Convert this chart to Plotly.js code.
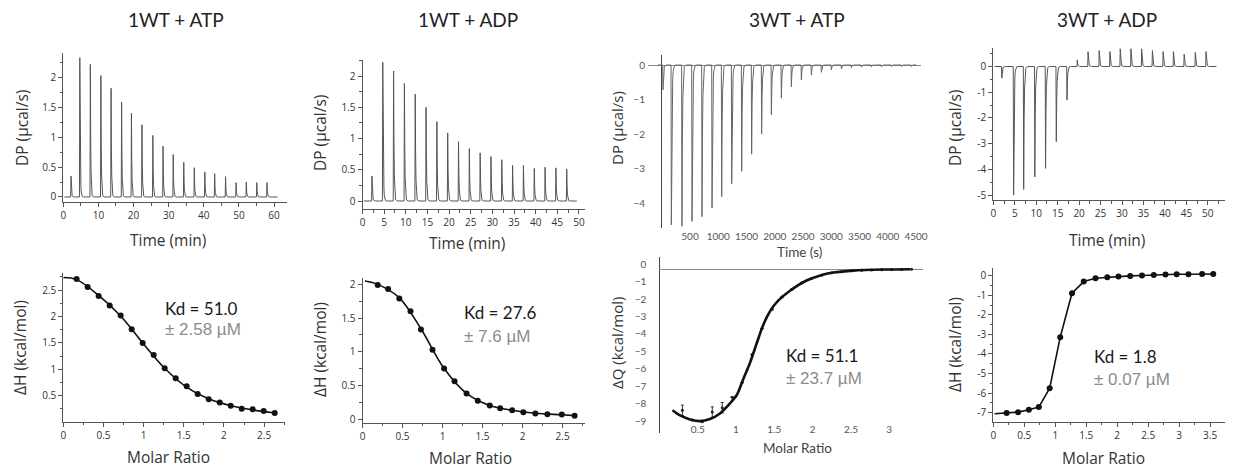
<!DOCTYPE html>
<html><head><meta charset="utf-8">
<script src="https://cdn.plot.ly/plotly-3.0.1.min.js"></script>
<style>html,body{margin:0;padding:0;background:#fff}#chart{width:1235px;height:473px}</style>
</head><body><div id="chart"></div>
<script>
// ---------- DATA ----------
const panelTitles = ["1WT + ATP", "1WT + ADP", "3WT + ATP", "3WT + ADP"];

// Raw thermograms: injection times and peak heights (DP, µcal/s)
const p1Times = [2.1, 4.6, 7.6, 10.6, 13.5, 16.5, 19.3, 22.3, 25.4, 28.3, 31.2, 34.2, 37.2, 40.2, 43.0, 46.1, 49.1, 52.0, 55.0, 57.9];
const p1Peaks = [0.35, 2.33, 2.22, 2.03, 1.82, 1.59, 1.40, 1.21, 1.03, 0.85, 0.71, 0.58, 0.49, 0.42, 0.39, 0.34, 0.24, 0.25, 0.24, 0.24];

const p2Times = [2.1, 4.6, 7.1, 9.6, 12.1, 14.6, 17.1, 19.6, 22.1, 24.6, 27.1, 29.6, 32.1, 34.6, 37.1, 39.6, 42.1, 44.6, 47.1];
const p2Peaks = [0.40, 2.22, 2.08, 1.88, 1.71, 1.50, 1.27, 1.09, 0.95, 0.84, 0.77, 0.71, 0.66, 0.57, 0.57, 0.52, 0.54, 0.53, 0.51];

const p3Times = [16, 164, 352, 530, 707, 884, 1055, 1232, 1409, 1585, 1762, 1934, 2111, 2288, 2465, 2642, 2819, 2996, 3173, 3350, 3527, 3704, 3881, 4058, 4235, 4411];
const p3Peaks = [-0.72, -4.63, -4.67, -4.53, -4.39, -4.14, -3.81, -3.44, -3.08, -2.58, -2.0, -1.44, -0.96, -0.63, -0.43, -0.29, -0.21, -0.14, -0.11, -0.08, -0.06, -0.05, -0.05, -0.04, -0.04, -0.04];

const p4Times = [1.9, 4.65, 7.0, 9.6, 12.1, 14.6, 17.1, 19.5, 22.0, 24.6, 27.1, 29.5, 32.0, 34.5, 37.0, 39.5, 41.9, 44.4, 47.0, 49.5];
const p4Peaks = [-0.45, -5.0, -4.78, -4.29, -3.96, -2.92, -1.30, 0.26, 0.58, 0.62, 0.58, 0.69, 0.69, 0.69, 0.62, 0.58, 0.58, 0.48, 0.55, 0.58];

// Integrated heats (molar ratio vs ΔH)
const p5X = [0.166, 0.303, 0.44, 0.577, 0.714, 0.851, 0.988, 1.125, 1.262, 1.399, 1.536, 1.673, 1.81, 1.947, 2.084, 2.221, 2.358, 2.495, 2.632];
const p5Y = [2.71, 2.56, 2.39, 2.21, 2.02, 1.76, 1.50, 1.27, 1.02, 0.83, 0.68, 0.53, 0.43, 0.37, 0.31, 0.25, 0.24, 0.21, 0.17];
const p5FitX = [0.0, 0.166, 0.44, 0.714, 0.988, 1.262, 1.536, 1.81, 2.084, 2.358, 2.632];
const p5FitY = [2.74, 2.70, 2.40, 2.01, 1.50, 1.02, 0.66, 0.44, 0.31, 0.23, 0.17];

const p6X = [0.19, 0.32, 0.46, 0.60, 0.73, 0.875, 1.02, 1.15, 1.30, 1.44, 1.59, 1.72, 1.87, 2.01, 2.16, 2.31, 2.49, 2.65];
const p6Y = [1.99, 1.93, 1.79, 1.60, 1.33, 1.03, 0.75, 0.56, 0.38, 0.27, 0.20, 0.16, 0.13, 0.10, 0.08, 0.07, 0.065, 0.05];
const p6FitX = [0.03, 0.19, 0.46, 0.73, 1.02, 1.30, 1.59, 1.87, 2.16, 2.49, 2.65];
const p6FitY = [2.05, 2.00, 1.80, 1.34, 0.75, 0.38, 0.20, 0.13, 0.085, 0.062, 0.05];

const p7X = [0.30, 0.43, 0.56, 0.69, 0.82, 0.95, 1.08, 1.21, 1.34, 1.47, 1.60, 1.73, 1.86, 1.99, 2.12, 2.25, 2.38, 2.51, 2.64, 2.77, 2.90, 3.03, 3.16, 3.29];
const p7Y = [-8.1, -8.65, -8.75, -8.2, -7.95, -7.35, -6.5, -4.9, -3.4, -2.3, -1.6, -1.15, -0.78, -0.52, -0.34, -0.2, -0.14, -0.09, -0.06, -0.04, -0.03, -0.02, -0.02, -0.01];
const p7Err = [0.3, 0, 0, 0.3, 0.3, 0, 0, 0, 0, 0, 0, 0, 0, 0, 0, 0, 0, 0, 0, 0, 0, 0, 0, 0];
const p7FitX = [0.17, 0.27, 0.40, 0.53, 0.66, 0.79, 0.92, 1.01, 1.09, 1.18, 1.27, 1.355, 1.46, 1.55, 1.70, 1.92, 2.09, 2.27, 2.53, 2.92, 3.27];
const p7FitY = [-8.09, -8.39, -8.62, -8.72, -8.60, -8.28, -7.70, -7.22, -6.36, -5.40, -4.25, -3.20, -2.30, -1.80, -1.25, -0.65, -0.37, -0.19, -0.08, -0.02, 0.0];

const p8X = [0.215, 0.40, 0.574, 0.735, 0.91, 1.08, 1.27, 1.46, 1.65, 1.84, 2.02, 2.21, 2.40, 2.59, 2.78, 2.96, 3.15, 3.37, 3.55];
const p8Y = [-7.03, -6.98, -6.86, -6.72, -5.75, -3.14, -0.89, -0.29, -0.12, -0.07, -0.03, 0.0, 0.02, 0.05, 0.07, 0.085, 0.085, 0.10, 0.10];
const p8FitX = [0.02, 0.215, 0.40, 0.574, 0.735, 0.91, 1.08, 1.27, 1.46, 1.65, 1.84, 2.02, 2.21, 2.40, 2.59, 2.78, 2.96, 3.15, 3.37, 3.55];
const p8FitY = [-7.06, -7.03, -6.98, -6.86, -6.72, -5.75, -3.14, -0.89, -0.29, -0.12, -0.07, -0.03, 0.0, 0.02, 0.05, 0.07, 0.085, 0.085, 0.10, 0.10];

const kdTexts = ["Kd = 51.0", "Kd = 27.6", "Kd = 51.1", "Kd = 1.8"];
const errTexts = ["± 2.58 µM", "± 7.6 µM", "± 23.7 µM", "± 0.07 µM"];

const yTick4Vals = [0, -1, -2, -3, -4, -5];
const yTick4Text = ["0", "-1", "-2", "-3", "-4", "-5"];
const yTick8Vals = [0, -1, -2, -3, -4, -5, -6, -7];
const yTick8Text = ["0", "-1", "-2", "-3", "-4", "-5", "-6", "-7"];
const p3XTicks = [500, 1000, 1500, 2000, 2500, 3000, 3500, 4000, 4500];
const p7XTicks = [0.5, 1, 1.5, 2, 2.5, 3];

// ---------- helpers ----------
const W = 1235, H = 473;
const xd = (a, b) => [a / W, b / W];
const yd = (top, bot) => [1 - bot / H, 1 - top / H];

// builds an injection-peak trace outline from the read peak times/heights
function thermo(times, peaks, start, end, rise, tau, span) {
  const xs = [start], ys = [0];
  for (let i = 0; i < times.length; i++) {
    const t = times[i], h = peaks[i];
    xs.push(t); ys.push(0);
    xs.push(t + rise); ys.push(h);
    const n = 10;
    for (let k = 1; k <= n; k++) {
      const dt = span * k / n;
      xs.push(t + rise + dt); ys.push(h * Math.exp(-dt / tau));
    }
  }
  xs.push(end); ys.push(0);
  return {xs, ys};
}

const th1 = thermo(p1Times, p1Peaks, 0.3, 61, 0.1, 0.12, 1.0);
const th2 = thermo(p2Times, p2Peaks, 0.3, 49.5, 0.08, 0.11, 0.9);
const th3 = thermo(p3Times, p3Peaks, -70, 4480, 6, 10, 80);
const th4 = thermo(p4Times, p4Peaks, 0.3, 52, 0.08, 0.12, 1.0);

const grayLine = {color: '#555', width: 1};
const traces = [
  {x: th1.xs, y: th1.ys, xaxis: 'x', yaxis: 'y', mode: 'lines', line: grayLine},
  {x: th2.xs, y: th2.ys, xaxis: 'x2', yaxis: 'y2', mode: 'lines', line: grayLine},
  {x: th3.xs, y: th3.ys, xaxis: 'x3', yaxis: 'y3', mode: 'lines', line: {color: '#666', width: 1}},
  {x: th4.xs, y: th4.ys, xaxis: 'x4', yaxis: 'y4', mode: 'lines', line: grayLine},

  {x: p5FitX, y: p5FitY, xaxis: 'x5', yaxis: 'y5', mode: 'lines', line: {color: '#111', width: 1.6, shape: 'spline'}},
  {x: p5X, y: p5Y, xaxis: 'x5', yaxis: 'y5', mode: 'markers', marker: {color: '#111', size: 6}},
  {x: p6FitX, y: p6FitY, xaxis: 'x6', yaxis: 'y6', mode: 'lines', line: {color: '#111', width: 1.6, shape: 'spline'}},
  {x: p6X, y: p6Y, xaxis: 'x6', yaxis: 'y6', mode: 'markers', marker: {color: '#111', size: 6}},
  {x: p7X, y: p7Y, xaxis: 'x7', yaxis: 'y7', mode: 'markers', marker: {color: '#222', size: 3},
   error_y: {type: 'data', array: p7Err, visible: true, color: '#333', thickness: 1, width: 1.5}},
  {x: p7FitX, y: p7FitY, xaxis: 'x7', yaxis: 'y7', mode: 'lines', line: {color: '#111', width: 2.6, shape: 'spline', smoothing: 0.8}},
  {x: p8FitX, y: p8FitY, xaxis: 'x8', yaxis: 'y8', mode: 'lines', line: {color: '#111', width: 1.6}},
  {x: p8X, y: p8Y, xaxis: 'x8', yaxis: 'y8', mode: 'markers', marker: {color: '#111', size: 6}}
];

const tickFont = {family: 'Open Sans, sans-serif', size: 10, color: '#333'};
const base = {showline: true, linecolor: '#555', linewidth: 1, ticks: 'outside', ticklen: 4, tickwidth: 1,
  tickcolor: '#555', showgrid: false, zeroline: false, tickfont: tickFont, fixedrange: true};
function ax(extra, minorD) {
  const o = Object.assign({}, base, extra);
  if (minorD) o.minor = {ticks: 'outside', ticklen: 2.5, tickcolor: '#555', dtick: minorD, showgrid: false};
  return o;
}
const plainFont = {family: 'Lato, sans-serif', size: 10, color: '#555'};
const plain = {showline: false, ticks: '', showgrid: false, fixedrange: true, tickfont: plainFont};

const layout = {
  width: W, height: H, margin: {l: 0, r: 0, t: 0, b: 0}, showlegend: false,
  paper_bgcolor: '#fff', plot_bgcolor: 'rgba(0,0,0,0)',
  xaxis: ax({domain: xd(63.3, 287), range: [0, 63.7], dtick: 10, anchor: 'y'}, 5),
  yaxis: ax({domain: yd(53, 202), range: [-0.084, 2.41], dtick: 0.5, anchor: 'x'}, 0.25),
  xaxis2: ax({domain: xd(362.5, 585), range: [0, 51.4], dtick: 5, anchor: 'y2'}, 2.5),
  yaxis2: ax({domain: yd(60, 209), range: [-0.128, 2.256], dtick: 0.5, anchor: 'x2'}, 0.25),
  xaxis3: Object.assign({}, plain, {domain: xd(648, 921), range: [-243, 4588], tickvals: p3XTicks, anchor: 'y3', ticklabelstandoff: 1}),
  yaxis3: Object.assign({}, plain, {domain: yd(55, 228), range: [-4.72, 0.29], dtick: 1, anchor: 'x3',
    zeroline: true, zerolinecolor: '#8a8a8a', zerolinewidth: 1, ticklabelstandoff: 2}),
  xaxis4: ax({domain: xd(993.3, 1225), range: [0, 54], dtick: 5, anchor: 'y4'}, 2.5),
  yaxis4: ax({domain: yd(48, 200), range: [-5.19, 0.72], tickvals: yTick4Vals, ticktext: yTick4Text, anchor: 'x4'}, 0.5),

  xaxis5: ax({domain: xd(63.3, 285), range: [0, 2.76], dtick: 0.5, anchor: 'y5'}, 0.25),
  yaxis5: ax({domain: yd(273.3, 421.7), range: [0.006, 2.82], dtick: 0.5, anchor: 'x5'}, 0.25),
  xaxis6: ax({domain: xd(362.5, 585), range: [0, 2.78], dtick: 0.5, anchor: 'y6'}, 0.25),
  yaxis6: ax({domain: yd(278.3, 422.7), range: [-0.055, 2.09], dtick: 0.5, anchor: 'x6'}, 0.25),
  xaxis7: Object.assign({}, plain, {domain: xd(659.4, 923), range: [0, 3.44], tickvals: p7XTicks, anchor: 'y7', ticklabelstandoff: -11}),
  yaxis7: Object.assign({}, plain, {domain: yd(257, 433), range: [-9.4, 0.7], dtick: 1, anchor: 'x7',
    zeroline: true, zerolinecolor: '#8a8a8a', zerolinewidth: 1, ticklabelstandoff: 12, ticklabelshift: -5}),
  xaxis8: ax({domain: xd(993.3, 1225), range: [0, 3.74], dtick: 0.5, anchor: 'y8'}, 0.25),
  yaxis8: ax({domain: yd(268.3, 421.7), range: [-7.47, 0.39], tickvals: yTick8Vals, ticktext: yTick8Text, anchor: 'x8'}, 0.5),
  annotations: []
};

const A = layout.annotations;
function note(text, px, py, font, extra) {
  A.push(Object.assign({text: text, x: px / W, y: 1 - py / H, xref: 'paper', yref: 'paper', showarrow: false,
    xanchor: 'center', yanchor: 'middle', font: font}, extra || {}));
}
const titleFont = {family: 'Lato, sans-serif', size: 19, color: '#222'};
const axTitle = {family: 'Open Sans, sans-serif', size: 15.5, color: '#333'};
const smallTitle = {family: 'Lato, sans-serif', size: 13.5, color: '#444'};
const kdFont = {family: 'Lato, sans-serif', size: 17, color: '#1a1a1a'};
const errFont = {family: 'Liberation Sans, Arial, sans-serif', size: 17, color: '#8c8c8c'};

const titleX = [176, 468, 797, 1107];
panelTitles.forEach((t, i) => note(t, titleX[i], 19, titleFont));

note('DP (µcal/s)', 22, 128, axTitle, {textangle: -90});
note('DP (µcal/s)', 320, 133, axTitle, {textangle: -90});
note('DP (µcal/s)', 617, 128, Object.assign({}, axTitle, {size: 15}), {textangle: -90});
note('DP (µcal/s)', 955, 128, axTitle, {textangle: -90});
note('Time (min)', 168, 240, axTitle);
note('Time (min)', 467, 243, axTitle);
note('Time (s)', 799, 252, smallTitle);
note('Time (min)', 1107, 240, axTitle);

note('ΔH (kcal/mol)', 20, 348, axTitle, {textangle: -90});
note('ΔH (kcal/mol)', 320, 350, axTitle, {textangle: -90});
note('ΔQ (kcal/mol)', 617, 343, Object.assign({}, axTitle, {size: 15}), {textangle: -90});
note('ΔH (kcal/mol)', 955, 345, axTitle, {textangle: -90});
note('Molar Ratio', 168, 457, axTitle);
note('Molar Ratio', 470, 458, axTitle);
note('Molar Ratio', 797, 448, smallTitle);
note('Molar Ratio', 1103, 458, axTitle);

const kdX = [163, 462, 784, 1092];
const kdY = [308, 312, 355, 356];
const errY = [329, 336, 378, 379];
kdTexts.forEach((t, i) => note(t, kdX[i], kdY[i], kdFont, {xanchor: 'left'}));
errTexts.forEach((t, i) => note(t, kdX[i], errY[i], errFont, {xanchor: 'left'}));

Plotly.newPlot('chart', traces, layout, {displayModeBar: false, staticPlot: true});
</script></body></html>
